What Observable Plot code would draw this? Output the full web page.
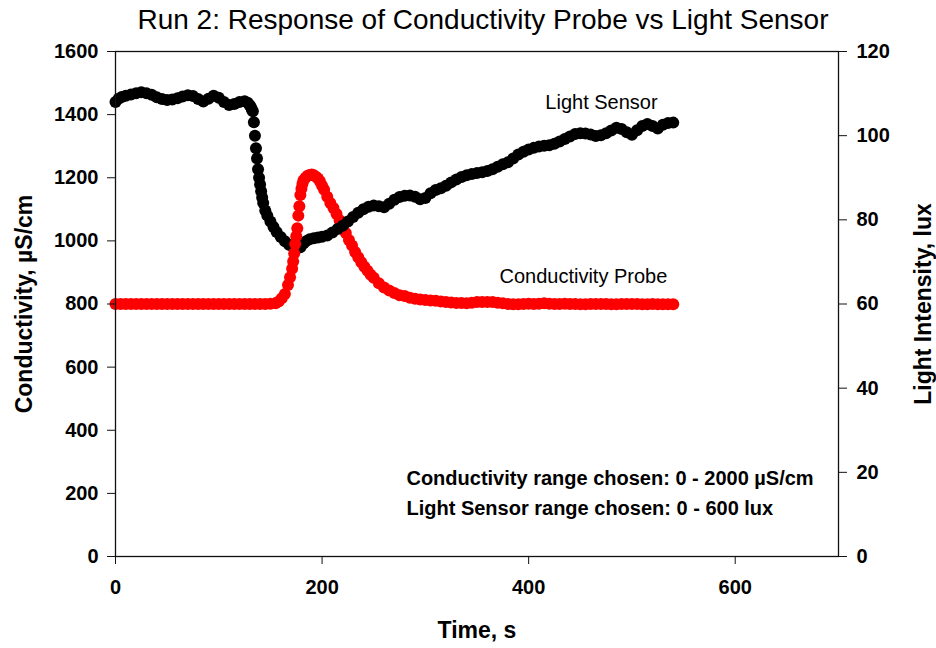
<!DOCTYPE html>
<html><head><meta charset="utf-8">
<script src="https://cdn.jsdelivr.net/npm/d3@7"></script>
<script src="https://cdn.jsdelivr.net/npm/@observablehq/plot@0.6"></script>
<style>
body{margin:0;background:#fff;font-family:"Liberation Sans",Arial,sans-serif;}
#title{height:40px;line-height:40px;text-align:center;font-size:28px;color:#000;padding-left:30px;white-space:nowrap;}
#chart svg{display:block;}
</style></head><body>
<div id="title">Run 2: Response of Conductivity Probe vs Light Sensor</div>
<div id="chart"></div>
<script>
// Conductivity probe (µS/cm) vs time (s)
const condTime = [0,5,10,15,20,25,30,35,40,45,50,55,60,65,70,75,80,85,90,95,100,105,110,115,120,125,130,135,140,145,150,
  155,158,161,164,167,169,171,172,173,174,175,176,177,178,179,180,181,182,184,186,188,190,192,194,196,198,200,202,205,208,211,214,217,220,223,226,229,232,235,238,241,244,247,250,
  255,260,265,270,275,280,285,290,295,300,305,310,315,320,325,330,335,340,345,350,355,360,365,370,375,380,385,390,395,400,405,410,415,420,425,430,435,440,445,450,455,460,465,470,475,480,485,490,495,500,505,510,515,520,525,530,535,540];
const condValue = [800,800,800,800,800,800,800,800,800,800,800,800,800,800,800,800,800,800,800,800,800,800,800,800,800,800,800,800,800,800,801,
  802,808,818,832,860,885,912,935,960,990,1015,1040,1080,1110,1145,1165,1180,1192,1200,1206,1209,1210,1208,1203,1198,1188,1175,1162,1140,1120,1104,1085,1065,1045,1025,1003,985,965,948,932,918,905,893,883,
  866,852,843,835,828,825,820,817,814,813,811,810,808,806,805,803,803,802,804,806,806,806,806,804,802,800,799,799,800,801,800,801,802,801,800,800,801,800,800,799,799,800,800,800,800,799,799,800,800,800,800,799,799,800,799,799,799,799];

// Light sensor (lux) vs time (s)
const lightTime = [0,3,6,10,15,20,25,30,35,40,45,50,55,60,65,70,75,80,85,90,95,100,105,110,115,120,125,128,130,131,132,
  133,134,135,136,137,138,139,140,141,142,143,145,147,150,153,156,160,164,168,172,176,179,182,185,188,192,196,200,205,210,215,220,225,230,235,240,245,250,
  255,260,265,270,275,280,285,290,295,300,305,310,315,320,325,330,335,340,345,350,355,360,365,370,375,380,385,390,395,400,405,410,415,420,425,430,435,440,445,450,455,460,465,470,475,480,485,490,495,500,505,510,515,520,525,530,535,540];
const lightValue = [108.0,108.8,109.2,109.5,109.8,110.1,110.3,110.1,109.7,109.1,108.7,108.5,108.6,108.9,109.3,109.6,109.4,108.7,108.1,108.8,109.5,109.0,108.0,107.3,107.5,108.0,108.2,107.8,107.2,106.8,106.2,
  105.8,103.2,100.0,97.0,94.6,92.0,90.0,88.4,86.8,85.3,84.0,82.2,81.0,79.6,78.3,77.1,75.9,74.9,74.1,73.6,73.3,73.5,74.4,75.0,75.4,75.6,75.8,76.0,76.3,77.0,77.8,78.6,79.6,80.7,81.7,82.5,83.1,83.4,
  83.2,83.0,83.8,84.8,85.4,85.7,85.8,85.5,84.9,85.2,86.3,87.1,87.5,88.1,88.9,89.6,90.2,90.6,90.9,91.1,91.3,91.6,92.0,92.6,93.2,93.7,94.6,95.5,96.2,96.7,97.1,97.4,97.6,97.7,98.1,98.6,99.2,99.8,100.4,100.6,100.5,100.3,99.9,100.1,100.6,101.2,101.9,101.6,100.8,100.2,101.3,102.3,102.8,102.3,101.7,102.6,103.0,103.1];

const xTicks = [0,200,400,600];
const condTicks = [0,200,400,600,800,1000,1200,1400,1600];
const lightTicks = [0,20,40,60,80,100,120];
const condMax = 1600, lightMax = 120;
const k = condMax / lightMax;

const labels = ["Light Sensor", "Conductivity Probe"];
const labelT = [470.5, 453];
const labelV = [1438, 887];
const notes = ["Conductivity range chosen: 0 - 2000 µS/cm", "Light Sensor range chosen: 0 - 600 lux"];
const noteT = [281.7, 281.7];
const noteV = [247, 152];

const cond = condTime.map((t,i) => ({t, v: condValue[i]}));
const light = lightTime.map((t,i) => ({t, v: lightValue[i] * k}));

const font = "Liberation Sans, Arial, sans-serif";
const chart = Plot.plot({
  width: 936, height: 608,
  marginTop: 11, marginBottom: 92, marginLeft: 115, marginRight: 98,
  style: {fontFamily: font, background: "#fff", color: "#000"},
  x: {domain: [0, 700]},
  y: {domain: [0, condMax]},
  marks: [
    Plot.dot(cond.filter(d => d.t >= 185), {x: "t", y: "v", r: 6, fill: "#ff0000", stroke: null}),
    Plot.dot(light, {x: "t", y: "v", r: 6, fill: "#000", stroke: null}),
    Plot.dot(cond.filter(d => d.t < 185), {x: "t", y: "v", r: 6, fill: "#ff0000", stroke: null}),
    Plot.frame({stroke: "#111", strokeWidth: 1.3}),
    Plot.axisX({ticks: xTicks, tickFormat: d => String(d), tickSize: 8, tickPadding: 15, fontSize: 20, fontWeight: "bold", label: null, stroke: "#111", fill: "#000"}),
    Plot.axisY({anchor: "left", ticks: condTicks, tickFormat: d => String(d), tickSize: 8, tickPadding: 9, fontSize: 20, fontWeight: "bold", label: null, stroke: "#111", fill: "#000"}),
    Plot.axisY({anchor: "right", ticks: lightTicks.map(v => v * k), tickFormat: d => String(Math.round(d / k)), tickSize: 8, tickPadding: 10, fontSize: 20, fontWeight: "bold", label: null, stroke: "#111", fill: "#000"}),
    Plot.text(["Time, s"], {frameAnchor: "bottom", dy: 74, fontSize: 23, fontWeight: "bold", textAnchor: "middle", lineAnchor: "middle", fill: "#000"}),
    Plot.text(["Conductivity, µS/cm"], {frameAnchor: "left", dx: -91, rotate: -90, fontSize: 23, fontWeight: "bold", textAnchor: "middle", lineAnchor: "middle", fill: "#000"}),
    Plot.text(["Light Intensity, lux"], {frameAnchor: "right", dx: 85, rotate: -90, fontSize: 23, fontWeight: "bold", textAnchor: "middle", lineAnchor: "middle", fill: "#000"}),
    Plot.text(labels, {x: (d,i) => labelT[i], y: (d,i) => labelV[i], text: d => d, fontSize: 20, lineAnchor: "middle", fill: "#000"}),
    Plot.text(notes, {x: (d,i) => noteT[i], y: (d,i) => noteV[i], text: d => d, fontSize: 20, fontWeight: "bold", textAnchor: "start", lineAnchor: "middle", fill: "#000"})
  ]
});
document.getElementById("chart").appendChild(chart);
</script>
</body></html>
